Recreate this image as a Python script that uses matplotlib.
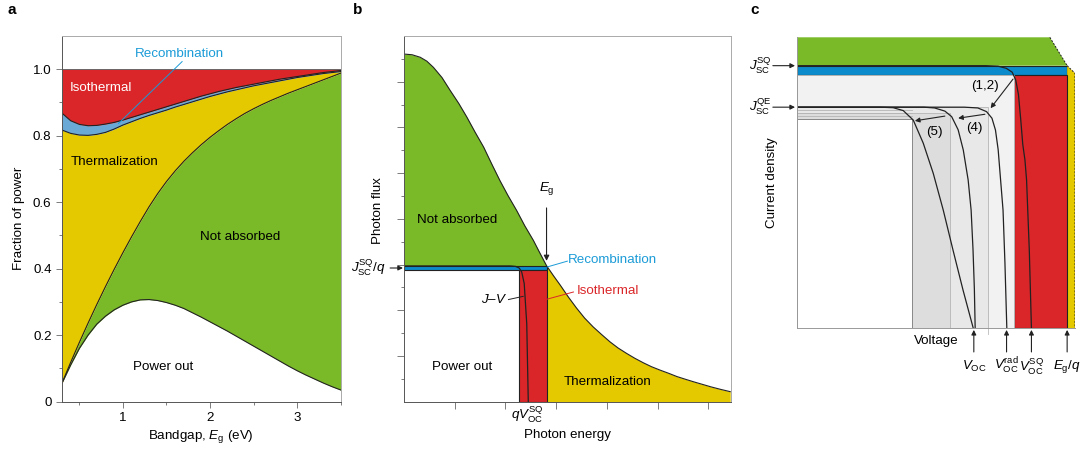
import matplotlib
matplotlib.use('Agg')
import matplotlib.pyplot as plt
from matplotlib.patches import Rectangle, Polygon

plt.rcParams['font.family'] = ['Liberation Sans', 'DejaVu Sans']
plt.rcParams['mathtext.fontset'] = 'custom'
plt.rcParams['mathtext.rm'] = 'Liberation Sans'
plt.rcParams['mathtext.it'] = 'Liberation Sans:italic'
plt.rcParams['font.size'] = 9.6

RED = '#da2629'
YEL = '#e4c800'
GRN = '#7aba28'
BLU_A = '#6aa8d6'
BLU = '#0b8bcb'
BLU_TXT = '#1b9bd7'
EDGE = '#222222'

# ---- a: power fractions vs bandgap
bandgap = [0.3, 0.4, 0.5, 0.6, 0.7, 0.8, 0.9, 1.0, 1.1, 1.2, 1.3, 1.4, 1.5, 1.6, 1.7,
           1.8, 1.9, 2.0, 2.1, 2.2, 2.3, 2.4, 2.5, 2.6, 2.7, 2.8, 2.9, 3.0, 3.1, 3.2,
           3.3, 3.4, 3.5]
power_out = [0.055, 0.11, 0.16, 0.2, 0.233, 0.257, 0.276, 0.29, 0.3, 0.306, 0.307,
             0.304, 0.298, 0.29, 0.28, 0.267, 0.254, 0.24, 0.226, 0.212, 0.197, 0.182,
             0.167, 0.152, 0.137, 0.122, 0.107, 0.093, 0.08, 0.068, 0.056, 0.045, 0.035]
absorbed_top = [0.055, 0.118, 0.178, 0.236, 0.292, 0.346, 0.398, 0.448, 0.496, 0.542, 0.586,
                0.626, 0.662, 0.694, 0.723, 0.749, 0.773, 0.795, 0.815, 0.834, 0.851, 0.867,
                0.881, 0.894, 0.906, 0.917, 0.928, 0.938, 0.948, 0.958, 0.968, 0.978, 0.988]
thermal_top = [0.817, 0.807, 0.802, 0.801, 0.804, 0.81, 0.82, 0.832, 0.842, 0.852, 0.861,
               0.869, 0.877, 0.886, 0.894, 0.902, 0.91, 0.918, 0.925, 0.932, 0.938, 0.944,
               0.95, 0.955, 0.96, 0.965, 0.97, 0.975, 0.979, 0.983, 0.987, 0.99, 0.993]
recomb_top = [0.868, 0.845, 0.834, 0.83, 0.831, 0.835, 0.84, 0.847, 0.855, 0.863, 0.871,
              0.879, 0.887, 0.895, 0.903, 0.911, 0.919, 0.926, 0.933, 0.939, 0.945, 0.95,
              0.955, 0.96, 0.965, 0.97, 0.974, 0.978, 0.982, 0.986, 0.99, 0.993, 0.996]

# ---- b: photon flux spectrum
energy = [0, 0.16, 0.32, 0.45, 0.58, 0.75, 0.91, 1.08, 1.24, 1.4, 1.57, 1.73, 1.89, 2.05,
          2.22, 2.38, 2.55, 2.68, 2.81, 2.95, 3.08, 3.24, 3.4, 3.56, 3.73, 3.9, 4.06,
          4.22, 4.39, 4.55, 4.72, 4.88, 5.05, 5.22, 5.38, 5.55, 5.71, 5.88, 6.05, 6.24, 6.43]
flux = [15.21, 15.18, 15.07, 14.9, 14.63, 14.18, 13.62, 13.05, 12.45, 11.8, 11.14, 10.4,
        9.68, 9.02, 8.37, 7.7, 7.06, 6.5, 5.95, 5.5, 5.1, 4.58, 4.1, 3.66, 3.27, 2.93,
        2.62, 2.35, 2.11, 1.9, 1.7, 1.53, 1.38, 1.24, 1.1, 0.98, 0.87, 0.76, 0.65, 0.54, 0.44]
e_gap = 2.81
jsc_b = 5.94
jsc_b_low = 5.76
qvoc_b = 2.27
jv_b_x = [0, 2.1, 2.2, 2.27, 2.32, 2.37, 2.42, 2.45]
jv_b_y = [5.94, 5.94, 5.92, 5.85, 5.68, 5.17, 3.4, 0]

# ---- c: J-V curves (Eg/q = 1, Jsc_SQ = 1)
j_green = 1.108
j_sq = 1.0
j_sq_low = 0.965
qe_steps = [0.842, 0.831, 0.821, 0.808, 0.796]
v_rects = [0.707, 0.566, 0.427]
rect_cols = ['#e8e8e8', '#dddddd', 'white']
v_red = 0.804
v_gap = 1.0
v_yel = 1.029
v_slant = 0.936
j_yel_right = 0.971
v_marks = [0.655, 0.776, 0.868, 1.0]
v_mark_labels = [r'$V_{\mathrm{OC}}$', r'$V_{\mathrm{OC}}^{\mathrm{rad}}$',
                 r'$V_{\mathrm{OC}}^{\mathrm{SQ}}$', r'$E_{\mathrm{g}}/q$']
jv_sq_v = [0, 0.70, 0.745, 0.775, 0.797, 0.81, 0.82, 0.828, 0.836, 0.844, 0.85, 0.86, 0.868]
jv_sq_j = [1.0, 1.0, 0.998, 0.99, 0.975, 0.945, 0.89, 0.80, 0.70, 0.641, 0.565, 0.3, 0]
jv_rad_v = [0, 0.62, 0.67, 0.702, 0.722, 0.735, 0.745, 0.752, 0.763, 0.77, 0.777]
jv_rad_j = [0.842, 0.842, 0.839, 0.825, 0.80, 0.755, 0.68, 0.59, 0.45, 0.25, 0]
jv_4_v = [0, 0.47, 0.51, 0.548, 0.573, 0.597, 0.616, 0.634, 0.645, 0.652, 0.657, 0.66]
jv_4_j = [0.842, 0.842, 0.839, 0.827, 0.806, 0.756, 0.679, 0.565, 0.45, 0.30, 0.15, 0]
jv_5_v = [0, 0.308, 0.357, 0.394, 0.431, 0.468, 0.505, 0.542, 0.578, 0.615, 0.653]
jv_5_j = [0.842, 0.842, 0.84, 0.829, 0.793, 0.705, 0.59, 0.45, 0.298, 0.146, 0]

fig = plt.figure(figsize=(10.83, 4.5), dpi=100)

# ================= a
ax = fig.add_axes([0.0572, 0.1076, 0.2573, 0.8124])
ax.fill_between(bandgap, 0, power_out, color='white', lw=0)
ax.fill_between(bandgap, power_out, absorbed_top, color=GRN, lw=0)
ax.fill_between(bandgap, absorbed_top, thermal_top, color=YEL, lw=0)
ax.fill_between(bandgap, thermal_top, recomb_top, color=BLU_A, lw=0)
ax.fill_between(bandgap, recomb_top, 1.0, color=RED, lw=0)
for curve in (power_out, absorbed_top, thermal_top, recomb_top):
    ax.plot(bandgap, curve, color=EDGE, lw=0.8)
ax.axhline(1.0, color='#555555', lw=0.6)
ax.set_xlim(0.3, 3.5)
ax.set_ylim(0, 1.1)
ax.set_xticks([1, 2, 3])
ax.set_xticks([0.5, 1.5, 2.5, 3.5], minor=True)
ax.set_yticks([0, 0.2, 0.4, 0.6, 0.8, 1.0])
ax.set_yticklabels(['0', '0.2', '0.4', '0.6', '0.8', '1.0'])
ax.set_yticks([0.1, 0.3, 0.5, 0.7, 0.9], minor=True)
ax.tick_params(which='both', direction='out', color='#666666', width=0.6)
ax.tick_params(which='major', length=4)
ax.tick_params(which='minor', length=2.5)
for s in ('left', 'bottom'):
    ax.spines[s].set_color('#555555')
for s in ('top', 'right'):
    ax.spines[s].set_color('#aaaaaa')
for s in ax.spines.values():
    s.set_linewidth(0.7)
ax.set_xlabel(r'Bandgap, $E_{\mathrm{g}}$ (eV)', labelpad=3)
ax.set_ylabel('Fraction of power', labelpad=6)
ax.text(0.392, 0.943, 'Isothermal', color='white', va='center')
ax.text(1.134, 1.046, 'Recombination', color=BLU_TXT, va='center')
ax.plot([1.68, 0.95], [1.023, 0.837], color=BLU_TXT, lw=0.7)
ax.text(0.40, 0.722, 'Thermalization', va='center')
ax.text(1.88, 0.496, 'Not absorbed', va='center')
ax.text(1.12, 0.105, 'Power out', va='center')
fig.text(0.0065, 0.977, 'a', fontsize=11, fontweight='bold', va='center')

# ================= b
bx = fig.add_axes([0.373, 0.1073, 0.3022, 0.8127])
k = energy.index(e_gap)
bx.fill_between(energy[:k + 1], jsc_b, flux[:k + 1], color=GRN, lw=0)
bx.fill_between(energy[k:], 0, flux[k:], color=YEL, lw=0)
bx.add_patch(Rectangle((0, jsc_b_low), e_gap, jsc_b - jsc_b_low, fc=BLU, ec=EDGE, lw=0.8))
bx.add_patch(Rectangle((qvoc_b, 0), e_gap - qvoc_b, jsc_b_low, fc=RED, ec=EDGE, lw=0.8))
bx.plot(energy, flux, color=EDGE, lw=0.8)
bx.plot(jv_b_x, jv_b_y, color=EDGE, lw=0.9)
bx.set_xlim(0, 6.45)
bx.set_ylim(0, 16)
bx.set_xticks(range(1, 7))
bx.set_xticklabels([])
bx.set_yticks(range(2, 16, 2))
bx.set_yticks(range(1, 16, 2), minor=True)
bx.set_yticklabels([])
bx.tick_params(which='both', direction='out', color='#666666', width=0.6)
bx.tick_params(which='major', length=5)
bx.tick_params(which='minor', length=2.5)
for s in ('left', 'bottom'):
    bx.spines[s].set_color('#555555')
for s in ('top', 'right'):
    bx.spines[s].set_color('#aaaaaa')
for s in bx.spines.values():
    s.set_linewidth(0.7)
bx.set_xlabel('Photon energy')
bx.xaxis.set_label_coords(0.5, -0.075)
bx.set_ylabel('Photon flux')
bx.yaxis.set_label_coords(-0.061, 0.524)
bx.text(2.42, -0.12, r'$qV_{\mathrm{OC}}^{\mathrm{SQ}}$', ha='center', va='top')
bx.text(0.26, 7.93, 'Not absorbed', va='center')
bx.text(0.55, 1.53, 'Power out', va='center')
bx.text(3.14, 0.87, 'Thermalization', va='center')
bx.text(2.81, 8.95, r'$E_{\mathrm{g}}$', ha='center', va='bottom')
bx.annotate('', xy=(e_gap, jsc_b + 0.1), xytext=(e_gap, 8.6),
            arrowprops=dict(arrowstyle='-|>', color=EDGE, lw=0.8, mutation_scale=8))
bx.text(3.24, 6.22, 'Recombination', color=BLU_TXT, va='center')
bx.plot([2.83, 3.22], [5.9, 6.15], color=BLU_TXT, lw=0.7)
bx.text(3.41, 4.85, 'Isothermal', color=RED, va='center')
bx.plot([2.81, 3.34], [4.48, 4.8], color=RED, lw=0.7)
bx.text(2.04, 4.47, r'$J$–$V$', ha='right', va='center')
bx.plot([2.06, 2.35], [4.47, 4.61], color=EDGE, lw=0.7)
bx.annotate(r'$J_{\mathrm{SC}}^{\mathrm{SQ}}/q$', xy=(-0.003, (jsc_b + jsc_b_low) / 2),
            xycoords=('axes fraction', 'data'), xytext=(-0.055, (jsc_b + jsc_b_low) / 2),
            textcoords=('axes fraction', 'data'), ha='right', va='center',
            arrowprops=dict(arrowstyle='-|>', color=EDGE, lw=0.8, mutation_scale=7,
                            shrinkA=1, shrinkB=0))
fig.text(0.326, 0.977, 'b', fontsize=11, fontweight='bold', va='center')

# ================= c
cx = fig.add_axes([0.7356, 0.2704, 0.257, 0.6467])
cx.add_patch(Polygon([(0, j_sq), (0, j_green), (v_slant, j_green), (v_gap, j_sq)],
                     closed=True, fc=GRN, ec='none'))
cx.plot([v_slant, v_gap], [j_green, j_sq], color=EDGE, lw=0.7, ls=(0, (2, 1.5)))
cx.add_patch(Rectangle((0, j_sq_low), v_gap, j_sq - j_sq_low, fc=BLU, ec=EDGE, lw=0.8))
cx.add_patch(Polygon([(v_gap, 0), (v_gap, j_sq), (v_yel, j_yel_right), (v_yel, 0)],
                     closed=True, fc=YEL, ec='none'))
cx.plot([v_gap, v_yel, v_yel], [j_sq, j_yel_right, 0], color=EDGE, lw=0.7, ls=(0, (2, 1.5)))
cx.add_patch(Rectangle((v_red, 0), v_gap - v_red, j_sq_low, fc=RED, ec=EDGE, lw=0.8))
cx.add_patch(Rectangle((0, 0), v_red, j_sq_low, fc='#f2f2f2', ec='#bbbbbb', lw=0.6))
for v, j, col in zip(v_rects, qe_steps[::2], rect_cols):
    cx.add_patch(Rectangle((0, 0), v, j, fc=col, ec='#b5b5b5', lw=0.6))
cx.add_patch(Rectangle((0, 0), v_rects[-1], qe_steps[-1], fc='white', ec='#888888', lw=0.7))
for j in qe_steps[1:-1]:
    cx.plot([0, v_rects[-1]], [j, j], color='#b5b5b5', lw=0.6)
cx.plot([v_rects[0], v_rects[0]], [0, -0.02], color='#bbbbbb', lw=0.6, clip_on=False)
for vv, jj in ((jv_sq_v, jv_sq_j), (jv_rad_v, jv_rad_j), (jv_4_v, jv_4_j), (jv_5_v, jv_5_j)):
    cx.plot(vv, jj, color=EDGE, lw=0.9)
cx.set_xlim(0, v_yel)
cx.set_ylim(0, j_green)
cx.set_xticks([])
cx.set_yticks([])
for s in ('top', 'right'):
    cx.spines[s].set_visible(False)
for s in ('left', 'bottom'):
    cx.spines[s].set_color('#999999')
    cx.spines[s].set_linewidth(0.7)
cx.set_ylabel('Current density')
cx.yaxis.set_label_coords(-0.067, 0.5)
cx.text(0.517, -0.047, 'Voltage', ha='center', va='center')
for v, lab in zip(v_marks, v_mark_labels):
    cx.annotate('', xy=(v, -0.006), xytext=(v, -0.09),
                arrowprops=dict(arrowstyle='-|>', color=EDGE, lw=0.8, mutation_scale=7,
                                shrinkA=0, shrinkB=0), annotation_clip=False)
    cx.text(v, -0.145, lab, ha='center', va='center')
for j, lab in ((j_sq, r'$J_{\mathrm{SC}}^{\mathrm{SQ}}$'), (qe_steps[0], r'$J_{\mathrm{SC}}^{\mathrm{QE}}$')):
    cx.annotate('', xy=(-0.006, j), xytext=(-0.088, j),
                arrowprops=dict(arrowstyle='-|>', color=EDGE, lw=0.8, mutation_scale=7,
                                shrinkA=0, shrinkB=0), annotation_clip=False)
    cx.text(-0.092, j, lab, ha='right', va='center')
arr = dict(arrowstyle='-|>', color=EDGE, lw=0.8, mutation_scale=7, shrinkA=0, shrinkB=0)
cx.text(0.696, 0.923, '(1,2)', ha='center', va='center')
cx.annotate('', xy=(0.717, 0.838), xytext=(0.800, 0.949), arrowprops=arr)
cx.text(0.656, 0.764, '(4)', ha='center', va='center')
cx.annotate('', xy=(0.597, 0.80), xytext=(0.696, 0.815), arrowprops=arr)
cx.text(0.511, 0.746, '(5)', ha='center', va='center')
cx.annotate('', xy=(0.437, 0.79), xytext=(0.548, 0.808), arrowprops=arr)
fig.text(0.6925, 0.977, 'c', fontsize=11, fontweight='bold', va='center')

fig.savefig('out.png', dpi=100)
